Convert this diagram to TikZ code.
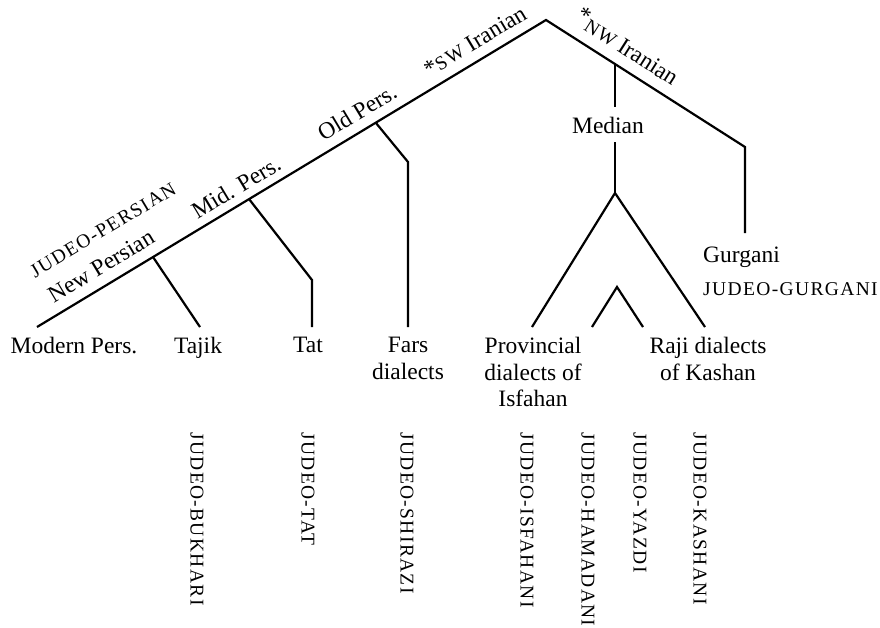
\documentclass[tikz,border=0pt]{standalone}
\usepackage{fontspec}
\setmainfont{Liberation Serif}
\newfontfamily\capsfont[LetterSpace=7]{Liberation Serif}
\usepackage{tikz}
\usetikzlibrary{positioning}
\tikzset{branch/.style={line width=2.2pt, line join=miter}}
\tikzset{leaf/.style={anchor=north, inner sep=0pt, align=center, font=\fontsize{23.5}{26.5}\selectfont}}
\tikzset{period/.style={inner sep=0pt, font=\fontsize{23.5}{26.5}\selectfont}}
\tikzset{judeo/.style={inner sep=0pt, font=\capsfont\fontsize{19.5}{22}\selectfont}}
\tikzset{vjudeo/.style={judeo, rotate=-90, anchor=west}}
\newcommand{\sca}[1]{{\capsfont\fontsize{19.5}{22}\selectfont #1}}

\begin{document}
\begin{tikzpicture}[x=1pt,y=-1pt]
\useasboundingbox (0,0) rectangle (880,627);

% branch points
\coordinate (root) at (546,20);
\coordinate (swend) at (37,327);
\coordinate (np) at (153,257);
\coordinate (mp) at (249,199);
\coordinate (op) at (376,123);
\coordinate (nwbend) at (745,147);
\coordinate (nwend) at (745,233);
\coordinate (medtop) at (615,64);
\coordinate (medapex) at (615,193);
\coordinate (inapex) at (617,287);

% line ends above the leaves
\coordinate (tajikend) at (200,327);
\coordinate (tatbend) at (312,280);
\coordinate (tatend) at (312,327);
\coordinate (farsbend) at (408,162);
\coordinate (farsend) at (408,327);
\coordinate (provend) at (532,327);
\coordinate (rajiend) at (705,327);
\coordinate (inleft) at (592,327);
\coordinate (inright) at (643,327);

% leaves
\node[leaf] (modern) at (74,337) {Modern Pers.};
\node[leaf] (tajik) at (198,337) {Tajik};
\node[leaf] (tat) at (308,337) {Tat};
\node[leaf] (fars) at (408,337) {Fars\\dialects};
\node[leaf] (prov) at (533,337) {Provincial\\dialects of\\Isfahan};
\node[leaf] (raji) at (708,337) {Raji dialects\\of Kashan};
\node[period, anchor=base, inner ysep=9pt] (median) at (608,133) {Median};
\node[period, anchor=base west] (gurgani) at (703,262) {Gurgani};
\node[judeo, anchor=base west] (jgurgani) at (703,295) {JUDEO-GURGANI};

% periods along the branches
\node[period, rotate=31] (newpers) at (101,266) {New Persian};
\node[judeo, rotate=31] (jpersian) at (103,230) {JUDEO-PERSIAN};
\node[period, rotate=31] (midpers) at (236,187) {Mid. Pers.};
\node[period, rotate=31] (oldpers) at (357,112) {Old Pers.};
\node[period, rotate=31] (swiran) at (475,41) {*\sca{SW} Iranian};
\node[period, rotate=-32.5] (nwiran) at (628,46) {\raisebox{5pt}{*}\sca{NW} Iranian};

% Jewish varieties
\node[vjudeo] (jbukhari) at (197,432) {JUDEO-BUKHARI};
\node[vjudeo] (jtat) at (308,432) {JUDEO-TAT};
\node[vjudeo] (jshirazi) at (407,432) {JUDEO-SHIRAZI};
\node[vjudeo] (jisfahani) at (527,432) {JUDEO-ISFAHANI};
\node[vjudeo] (jhamadani) at (588,432) {JUDEO-HAMADANI};
\node[vjudeo] (jyazdi) at (640,432) {JUDEO-YAZDI};
\node[vjudeo] (jkashani) at (700,432) {JUDEO-KASHANI};

% tree
\draw[branch] (swend) -- (root) -- (nwbend) -- (nwend);
\draw[branch] (np) -- (tajikend);
\draw[branch] (mp) -- (tatbend) -- (tatend);
\draw[branch] (op) -- (farsbend) -- (farsend);
\draw[branch] (medtop) -- (medtop |- median.north);
\draw[branch] (medtop |- median.south) -- (medapex);
\draw[branch] (provend) -- (medapex) -- (rajiend);
\draw[branch] (inleft) -- (inapex) -- (inright);
\end{tikzpicture}
\end{document}
